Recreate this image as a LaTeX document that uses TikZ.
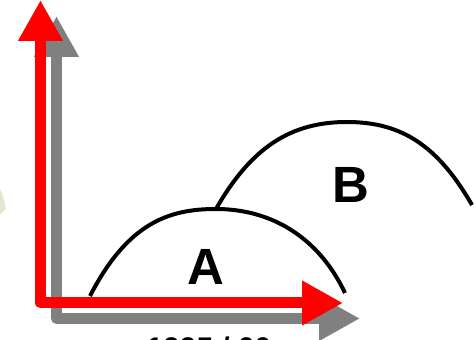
\documentclass[tikz,border=0pt]{standalone}
\usepackage{fontspec}
\setmainfont{Liberation Sans}
\usetikzlibrary{arrows.meta}

\begin{document}
\begin{tikzpicture}[x=0.02cm, y=-0.02cm,
        axis/.style={line width=0.22cm, line join=round, {Triangle[width=0.84cm,length=0.82cm]}-{Triangle[width=0.84cm,length=0.82cm]}},
        hump/.style={line width=0.08cm},
        letter/.style={font=\fontsize{29}{30}\selectfont\bfseries, inner sep=0pt}]
        \useasboundingbox (0,0) rectangle (474,340);
        \fill[fill={rgb,255:red,228;green,230;blue,210}] (0,189) -- (3,196) -- (6,209) -- (0,215) -- cycle;
        % shadow axes
        \coordinate (gtop) at (56.5,16);
        \coordinate (gorig) at (56.5,318.5);
        \coordinate (gright) at (360,318.5);
        \draw[axis, gray] (gtop) -- (gorig) -- (gright);
        % red axes
        \coordinate (rtop) at (40.5,0);
        \coordinate (rorig) at (40.5,303);
        \coordinate (rright) at (343,303);
        \draw[axis, red] (rtop) -- (rorig) -- (rright);
        % humps
        \coordinate (a0) at (90,296);
        \coordinate (apeak) at (216,209);
        \coordinate (a1) at (345,293);
        \coordinate (bpeak) at (347,122);
        \coordinate (b1) at (472,205);
        \draw[hump] (a0) .. controls (128,222) and (170,209) .. (apeak) .. controls (270,209) and (318,236) .. (a1);
        \draw[hump] (apeak) .. controls (252,146) and (292,122) .. (bpeak) .. controls (402,122) and (438,146) .. (b1);
        \node[letter] (A) at (206,267) {A};
        \node[letter] (B) at (351,185) {B};
        \node[anchor=north, inner sep=0pt, font=\fontsize{17}{18}\selectfont\bfseries] (year) at (209,337) {1995 / 00};
    \end{tikzpicture}
\end{document}
